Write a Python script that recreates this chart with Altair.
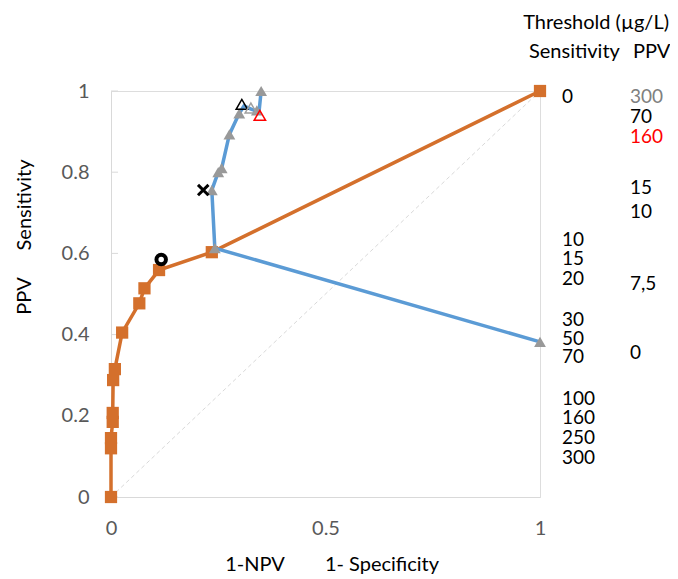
import altair as alt
import pandas as pd

# Sensitivity vs 1-Specificity (orange squares)
sens_x = [0.0, 0.0, 0.0, 0.004, 0.004, 0.005, 0.009, 0.026, 0.066, 0.078, 0.112, 0.235, 1.0]
sens_y = [0.0, 0.12, 0.145, 0.185, 0.207, 0.288, 0.315, 0.405, 0.477, 0.514, 0.559, 0.603, 1.0]

# PPV vs 1-NPV (blue line, grey triangles)
ppv_x = [1.0, 0.242, 0.235, 0.25, 0.258, 0.276, 0.299, 0.31, 0.328, 0.345, 0.35]
ppv_y = [0.382, 0.613, 0.756, 0.80, 0.81, 0.893, 0.945, 0.963, 0.955, 0.948, 1.0]
tri_x = [1.0, 0.242, 0.235, 0.25, 0.258, 0.276, 0.299, 0.34, 0.35]
tri_y = [0.382, 0.613, 0.756, 0.80, 0.81, 0.893, 0.945, 0.952, 1.0]

# highlighted markers
open_tri_x = [0.305, 0.326, 0.347]
open_tri_y = [0.967, 0.958, 0.94]
open_tri_color = ["#000000", "#a0a0a0", "#ff0000"]
circle_x = [0.117]
circle_y = [0.585]
cross_x = [0.215]
cross_y = [0.756]

# threshold labels (µg/L)
sens_lab = ["0", "10", "15", "20", "30", "50", "70", "100", "160", "250", "300"]
sens_lab_y = [0.985, 0.633, 0.586, 0.537, 0.436, 0.389, 0.345, 0.241, 0.194, 0.145, 0.097]
ppv_lab = ["300", "70", "160", "15", "10", "7,5", "0"]
ppv_lab_y = [0.985, 0.936, 0.886, 0.761, 0.702, 0.525, 0.355]
ppv_lab_color = ["#808080", "#000000", "#ff0000", "#000000", "#000000", "#000000", "#000000"]

y_ticks = [0, 0.2, 0.4, 0.6, 0.8, 1.0]

FONT = "Lato"
FS = 20
FS_LAB = 19
ORANGE = "#d4702c"
BLUE = "#5b9bd5"
GREY = "#999999"

xs = alt.Scale(domain=[0, 1], nice=False)
ys = alt.Scale(domain=[0, 1], nice=False)

sens_df = pd.DataFrame({"x": sens_x, "y": sens_y})
ppv_df = pd.DataFrame({"x": ppv_x, "y": ppv_y, "o": list(range(len(ppv_x)))})
tri_df = pd.DataFrame({"x": tri_x, "y": tri_y})
open_df = pd.DataFrame({"x": open_tri_x, "y": open_tri_y, "c": open_tri_color})
circ_df = pd.DataFrame({"x": circle_x, "y": circle_y})
cross_df = pd.DataFrame({"x": cross_x, "y": cross_y})
diag_df = pd.DataFrame({"x": [0, 1], "y": [0, 1]})
sl_df = pd.DataFrame({"t": sens_lab, "y": sens_lab_y})
pl_df = pd.DataFrame({"t": ppv_lab, "y": ppv_lab_y, "c": ppv_lab_color})
tick_df = pd.DataFrame({"y": y_ticks})

X = alt.X("x:Q", scale=xs, axis=alt.Axis(values=[0, 0.5, 1], format="~g", title=None,
                                        ticks=False, grid=False, labelPadding=21, labelFlush=False,
                                        domainColor="#d9d9d9", labelColor="#595959",
                                        labelFont=FONT, labelFontSize=FS))
Y = alt.Y("y:Q", scale=ys, axis=alt.Axis(values=y_ticks, format=".1~f", title=None,
                                        ticks=False, grid=False, labelPadding=22, labelFlush=False,
                                        domainColor="#d9d9d9", labelColor="#595959",
                                        labelFont=FONT, labelFontSize=FS))
Xn = alt.X("x:Q", scale=xs)
Yn = alt.Y("y:Q", scale=ys)

diag = alt.Chart(diag_df).mark_line(color="#d9d9d9", strokeDash=[4, 3], strokeWidth=1).encode(x=X, y=Y)
ticks = alt.Chart(tick_df).mark_rule(color="#d9d9d9", strokeWidth=1).encode(
    x=alt.value(0), x2=alt.value(7), y=Yn)

sens_line = alt.Chart(sens_df).mark_line(color=ORANGE, strokeWidth=3.5).encode(x=Xn, y=Yn)
sens_pts = alt.Chart(sens_df).mark_point(shape="square", filled=True, color=ORANGE, size=150, opacity=1).encode(x=Xn, y=Yn)

ppv_line = alt.Chart(ppv_df).mark_line(color=BLUE, strokeWidth=3.5).encode(x=Xn, y=Yn, order="o:Q")
tri_pts = alt.Chart(tri_df).mark_point(shape="triangle-up", filled=True, color=GREY, size=140, opacity=1).encode(x=Xn, y=Yn)
open_pts = alt.Chart(open_df).mark_point(shape="triangle-up", filled=False, size=130, strokeWidth=1.5, opacity=1).encode(
    x=Xn, y=Yn, color=alt.Color("c:N", scale=None))
circ = alt.Chart(circ_df).mark_point(shape="circle", filled=False, color="#000000", size=90, strokeWidth=4, opacity=1).encode(x=Xn, y=Yn)
cross = alt.Chart(cross_df).mark_point(shape="M-1,-1L1,1M-1,1L1,-1", filled=False, color="#000000", size=110, strokeWidth=3, opacity=1).encode(x=Xn, y=Yn)

txt = dict(font=FONT, fontSize=FS, baseline="middle")
ltxt = dict(font=FONT, fontSize=FS_LAB, baseline="middle")
sens_txt = alt.Chart(sl_df).mark_text(align="left", color="#000000", **ltxt).encode(
    x=alt.value(451), y=Yn, text="t:N")
ppv_txt = alt.Chart(pl_df).mark_text(align="left", **ltxt).encode(
    x=alt.value(519), y=Yn, text="t:N", color=alt.Color("c:N", scale=None))

one = pd.DataFrame({"a": [0]})
hdr = alt.Chart(one).mark_text(align="right", color="#000000", text="Threshold (\u00b5g/L)", **txt).encode(
    x=alt.value(558), y=alt.value(-68))
hdr2 = alt.Chart(one).mark_text(align="left", color="#000000", text="Sensitivity", **txt).encode(
    x=alt.value(418), y=alt.value(-39))
hdr3 = alt.Chart(one).mark_text(align="left", color="#000000", text="PPV", **txt).encode(
    x=alt.value(522), y=alt.value(-39))

xt1 = alt.Chart(one).mark_text(align="center", color="#000000", text="1-NPV", **txt).encode(
    x=alt.value(144), y=alt.value(474))
xt2 = alt.Chart(one).mark_text(align="center", color="#000000", text="1- Specificity", **txt).encode(
    x=alt.value(271), y=alt.value(474))
yt1 = alt.Chart(one).mark_text(align="center", color="#000000", text="PPV", angle=270, **txt).encode(
    x=alt.value(-86), y=alt.value(205))
yt2 = alt.Chart(one).mark_text(align="center", color="#000000", text="Sensitivity", angle=270, **txt).encode(
    x=alt.value(-86), y=alt.value(114))

chart = alt.layer(
    diag, ticks, sens_line, sens_pts, ppv_line, tri_pts, open_pts, circ, cross,
    sens_txt, ppv_txt, hdr, hdr2, hdr3, xt1, xt2, yt1, yt2
).properties(
    width=429, height=406,
    padding={"left": 103, "top": 83, "right": 130, "bottom": 81},
    autosize=alt.AutoSizeParams(type="none"),
).configure_view(stroke="#d9d9d9", strokeWidth=1).configure(background="white")

chart.save("out.html", embed_options={"renderer": "svg", "actions": False})
